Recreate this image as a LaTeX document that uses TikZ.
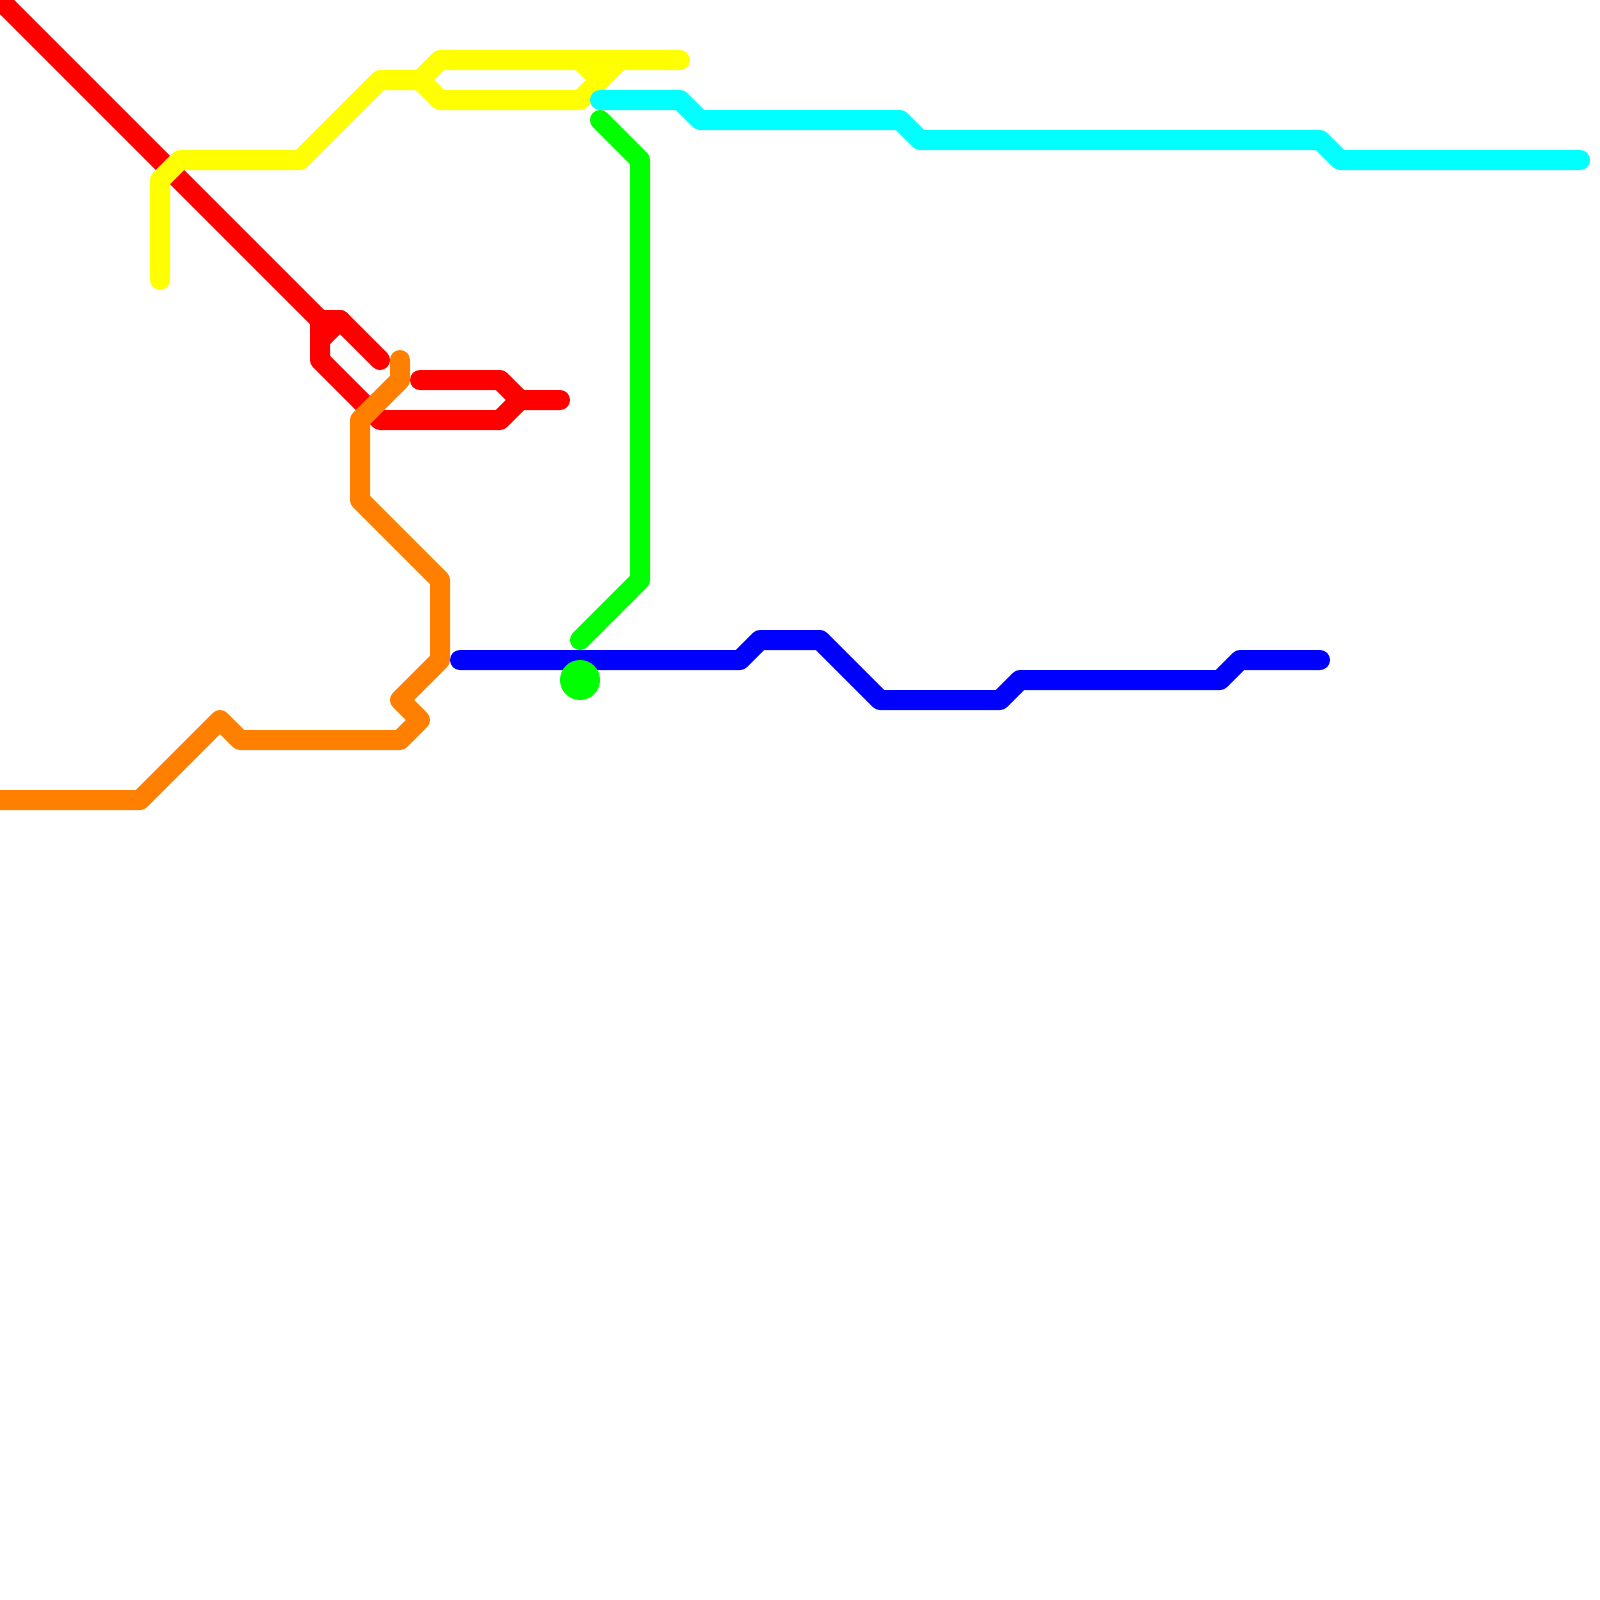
\documentclass[tikz,border=0pt]{standalone}
\usepackage{tikz}
\definecolor{linered}{RGB}{255,0,0}
\definecolor{lineorange}{RGB}{255,128,0}
\definecolor{lineyellow}{RGB}{255,255,0}
\definecolor{linegreen}{RGB}{0,255,0}
\definecolor{linecyan}{RGB}{0,255,255}
\definecolor{lineblue}{RGB}{0,0,255}
\begin{document}
\begin{tikzpicture}[
x=0.5cm,
y=-0.5cm,
myline/.style={
  line width=0.5cm,
  line cap=round,
  line join=round
  },
mystop/.style={
  circle,
  fill=linegreen,
  inner sep=0pt,
  minimum size=1cm
  }
]
\useasboundingbox (0,0) rectangle (80,80);
\draw[myline,linered] (0,0) -- (16,16) -- (17,16) -- (19,18);
\draw[myline,linered] (16,16) -- (16,18) -- (19,21) -- (25,21) -- (26,20) -- (28,20);
\draw[myline,linered] (16,17) -- (17,16);
\draw[myline,linered] (21,19) -- (25,19) -- (26,20);
\draw[myline,lineblue] (23,33) -- (37,33) -- (38,32) -- (41,32) -- (44,35) -- (50,35) -- (51,34) -- (61,34) -- (62,33) -- (66,33);
\draw[myline,lineorange] (0,40) -- (7,40) -- (11,36) -- (12,37) -- (20,37) -- (21,36) -- (20,35) -- (22,33) -- (22,29) -- (18,25) -- (18,21) -- (20,19) -- (20,18);
\draw[myline,lineyellow] (8,14) -- (8,9) -- (9,8) -- (15,8) -- (19,4) -- (21,4) -- (22,3) -- (34,3);
\draw[myline,lineyellow] (21,4) -- (22,5) -- (29,5) -- (31,3);
\draw[myline,lineyellow] (29,3) -- (30,4);
\draw[myline,linecyan] (30,5) -- (34,5) -- (35,6) -- (45,6) -- (46,7) -- (66,7) -- (67,8) -- (79,8);
\draw[myline,linegreen] (30,6) -- (32,8) -- (32,29) -- (29,32);
\node[mystop] (stop) at (29,34) {};
\end{tikzpicture}
\end{document}
